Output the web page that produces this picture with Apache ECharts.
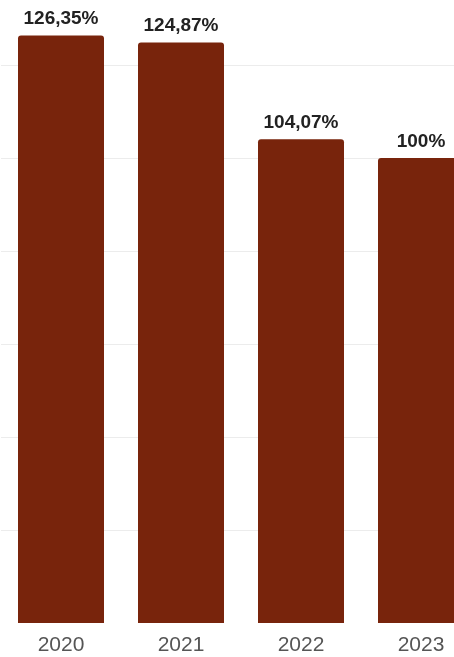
<!DOCTYPE html>
<html>
<head>
<meta charset="utf-8">
<script src="https://cdn.jsdelivr.net/npm/echarts@6/dist/echarts.min.js"></script>
<style>
html,body{margin:0;padding:0;background:#fff;overflow:hidden;width:454px;height:657px;}
#c{width:481px;height:657px;}
</style>
</head>
<body>
<div id="c"></div>
<script>
const categories = ['2020', '2021', '2022', '2023'];
const values = [126.35, 124.87, 104.07, 100];

const chart = echarts.init(document.getElementById('c'), null, {renderer: 'canvas'});
chart.setOption({
  animation: false,
  backgroundColor: '#ffffff',
  grid: {left: 1, right: 0, top: 0, bottom: 34, containLabel: false},
  xAxis: {
    type: 'category',
    data: categories,
    axisLine: {show: false},
    axisTick: {show: false},
    axisLabel: {
      color: '#555555',
      fontSize: 21,
      fontFamily: 'Liberation Sans, Arial, sans-serif',
      margin: 12
    }
  },
  yAxis: {
    type: 'value',
    min: 0,
    max: 134,
    interval: 20,
    axisLabel: {show: false},
    axisLine: {show: false},
    axisTick: {show: false},
    splitLine: {showMaxLine: false, showMinLine: false, lineStyle: {color: '#ececec', width: 1}}
  },
  series: [{
    type: 'bar',
    data: values,
    barWidth: 86,
    itemStyle: {color: '#78240c', borderRadius: [3, 3, 0, 0]},
    label: {
      show: true,
      position: 'top',
      distance: 7,
      color: '#222222',
      fontSize: 19,
      fontWeight: 'bold',
      fontFamily: 'Liberation Sans, Arial, sans-serif',
      formatter: p => String(p.value).replace('.', ',') + '%'
    }
  }]
});
</script>
</body>
</html>
